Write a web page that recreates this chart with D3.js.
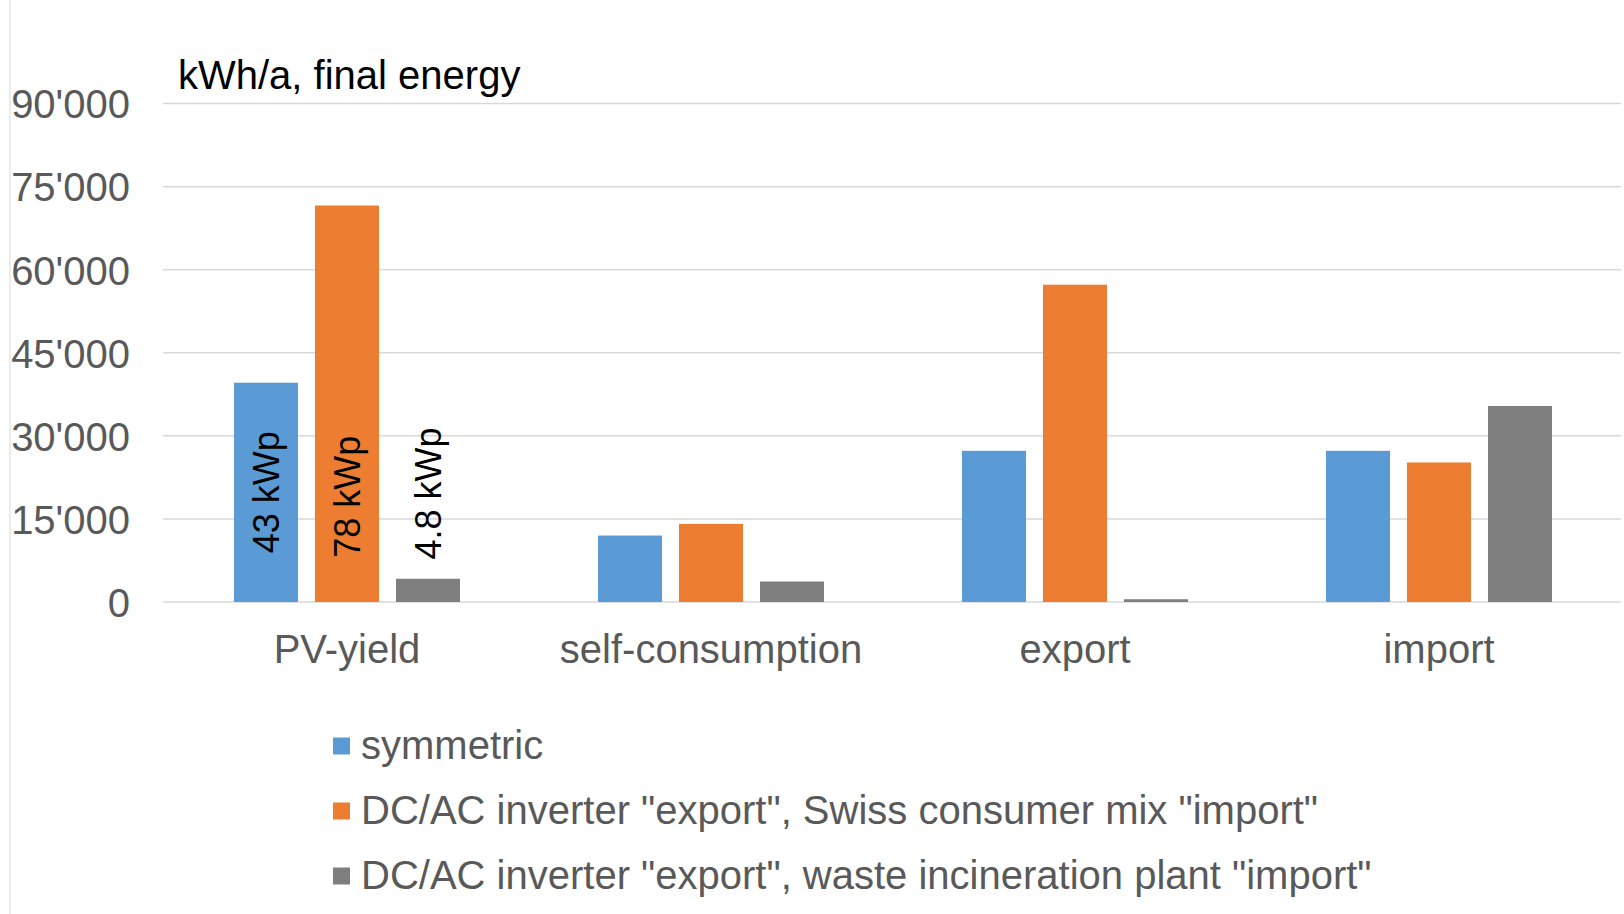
<!DOCTYPE html>
<html>
<head>
<meta charset="utf-8">
<script src="https://cdn.jsdelivr.net/npm/d3@7"></script>
<style>
  html, body { margin: 0; padding: 0; background: #ffffff; }
  svg { display: block; font-family: "Liberation Sans", Arial, sans-serif; }
</style>
</head>
<body>
<svg id="chart" width="1624" height="914"></svg>
<script>
// ---- data ----
const categories = ["PV-yield", "self-consumption", "export", "import"];
const seriesNames = [
  "symmetric",
  "DC/AC inverter \"export\", Swiss consumer mix \"import\"",
  "DC/AC inverter \"export\", waste incineration plant \"import\""
];
const symmetric   = [39600, 12000, 27300, 27300];
const swissMix    = [71600, 14100, 57300, 25200];
const wastePlant  = [4200, 3700, 500, 35400];
const seriesColors = ["#5B9BD5", "#ED7D31", "#7F7F7F"];
const yTicks = [0, 15000, 30000, 45000, 60000, 75000, 90000];
const peakLabels = ["43 kWp", "78 kWp", "4.8 kWp"];
const peakLabelAt = [19800, 19000, 19600];
const yTitle = "kWh/a, final energy";

const seriesValues = [symmetric, swissMix, wastePlant];

// ---- layout ----
const svg = d3.select("#chart");
const gridLeft = 163, plotLeft = 165, plotRight = 1621, plotTop = 103.6, plotBottom = 602;

const locale = d3.formatLocale({ decimal: ".", thousands: "'", grouping: [3], currency: ["", ""] });
const fmt = locale.format(",");

const y = d3.scaleLinear().domain([0, 90000]).range([plotBottom, plotTop]);
const x0 = d3.scaleBand().domain(categories).range([plotLeft, plotRight]).paddingInner(0).paddingOuter(0);
const x1 = d3.scaleBand().domain(d3.range(seriesNames.length))
  .range([0, x0.bandwidth()]).paddingInner(0.21).paddingOuter(0.852);

// chart border (left edge)
svg.append("line").attr("x1", 10).attr("x2", 10).attr("y1", 0).attr("y2", 914)
  .attr("stroke", "#d9d9d9").attr("stroke-width", 1);

// gridlines
svg.append("g").selectAll("line").data(yTicks).join("line")
  .attr("x1", gridLeft).attr("x2", plotRight)
  .attr("y1", d => y(d)).attr("y2", d => y(d))
  .attr("stroke", "#d9d9d9").attr("stroke-width", 1.5);

// y axis labels
const yAxis = d3.axisLeft(y).tickValues(yTicks).tickFormat(fmt).tickSize(0).tickPadding(0);
const yg = svg.append("g").attr("transform", "translate(130,0)").call(yAxis);
yg.select(".domain").remove();
yg.selectAll("text").attr("font-size", 40).attr("fill", "#595959")
  .attr("font-family", "Liberation Sans, Arial, sans-serif").attr("dy", "0.358em");

// axis title
svg.append("text").attr("x", 178).attr("y", 89).attr("font-size", 40).attr("fill", "#000")
  .text(yTitle);

// bars
const groups = svg.append("g").selectAll("g").data(categories).join("g")
  .attr("transform", d => `translate(${x0(d)},0)`);
groups.selectAll("rect")
  .data((c, ci) => seriesValues.map((vals, si) => ({ si, v: vals[ci] })))
  .join("rect")
  .attr("x", d => x1(d.si))
  .attr("width", x1.bandwidth())
  .attr("y", d => y(d.v))
  .attr("height", d => y(0) - y(d.v))
  .attr("fill", d => seriesColors[d.si]);

// x category labels
const xAxis = d3.axisBottom(x0).tickSize(0).tickPadding(0);
const xg = svg.append("g").attr("transform", `translate(0,${plotBottom})`).call(xAxis);
xg.select(".domain").remove();
xg.selectAll("text").attr("font-size", 40).attr("fill", "#595959")
  .attr("font-family", "Liberation Sans, Arial, sans-serif")
  .attr("y", 61).attr("dy", 0);

// rotated peak labels for PV-yield
svg.append("g").selectAll("text").data(peakLabels).join("text")
  .attr("transform", (d, i) => `translate(${x0(categories[0]) + x1(i) + x1.bandwidth() / 2},${y(peakLabelAt[i])}) rotate(-90)`)
  .attr("text-anchor", "middle")
  .attr("dy", "0.36em")
  .attr("font-size", 36)
  .attr("fill", "#000")
  .text(d => d);

// legend
const legend = svg.append("g").selectAll("g").data(seriesNames).join("g")
  .attr("transform", (d, i) => `translate(333,${746 + i * 65})`);
legend.append("rect").attr("x", 0).attr("y", -8.5).attr("width", 17).attr("height", 17)
  .attr("fill", (d, i) => seriesColors[i]);
legend.append("text").attr("x", 28).attr("y", 13).attr("font-size", 40).attr("fill", "#595959")
  .text(d => d);
</script>
</body>
</html>
